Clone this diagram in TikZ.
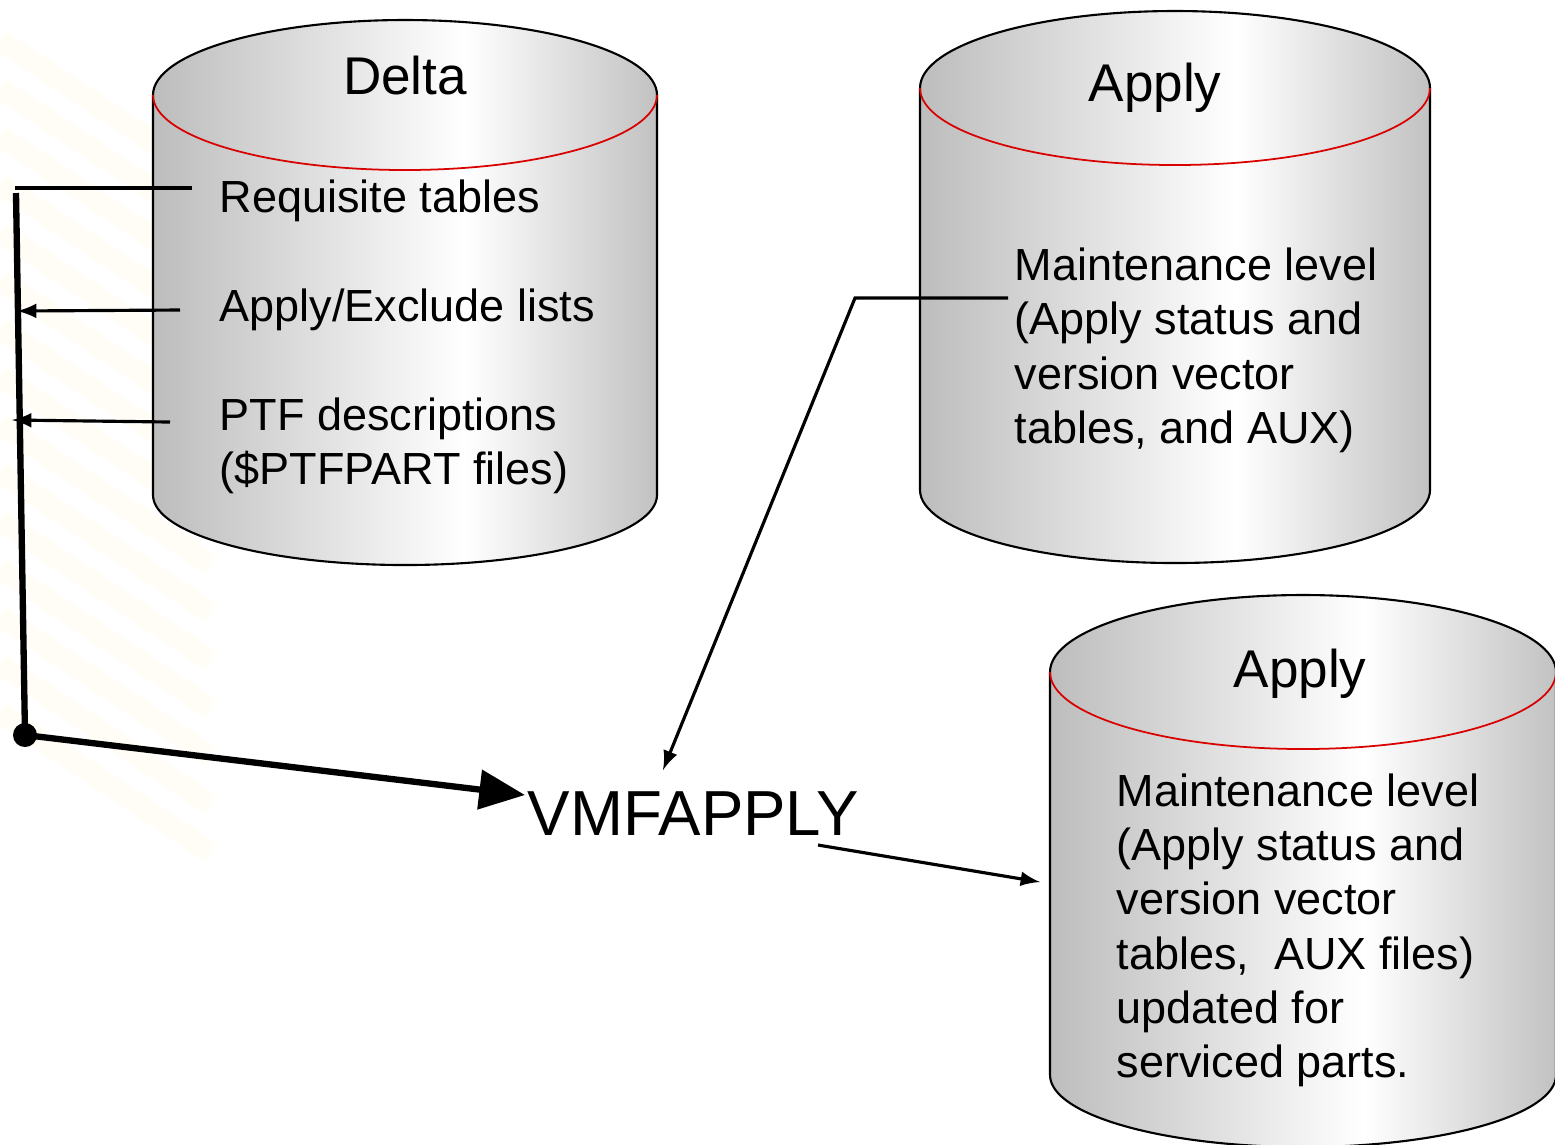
\documentclass[tikz,border=0pt]{standalone}
\usepackage{fontspec}
\setmainfont{Liberation Sans}
\usetikzlibrary{arrows,arrows.meta}
\pgfdeclarehorizontalshading{drum}{100bp}{color(0bp)=(black!26); color(25bp)=(black!26); color(56bp)=(white); color(75bp)=(black!24); color(100bp)=(black!24)}
\tikzset{
  title/.style={font=\fontsize{15.1}{18}\selectfont, anchor=base, inner sep=0pt},
  body/.style={font=\fontsize{12.8}{15.36}\selectfont, anchor=base west, align=left, inner sep=0pt},
  feed/.style={line width=0.9pt},
  bus/.style={line width=1.8pt}
}
\begin{document}
\begin{tikzpicture}[x=0.01cm,y=0.01cm]
        \useasboundingbox (0,0) rectangle (1555,-1144);
        % faint background stripes
        \foreach \k in {0,...,14}
        \draw[line width=6pt, yellow!70!orange, opacity=0.04] (0,-40-\k*48) -- (210,-180-\k*48);
        % cylinders: centre x / top y / bottom y / x radius / top y radius / bottom y radius
        \foreach \cx/\ty/\by/\rx/\rt/\rb in {405/95/495/252/75/70, 1175/88/490/255/77/73, 1303/672/1075/253/77/72}
        {
        \shade[shading=drum, draw=black, line width=0.6pt] (\cx-\rx,-\ty) -- (\cx-\rx,-\by)
            arc[start angle=180, end angle=360, x radius=\rx, y radius=\rb] -- (\cx+\rx,-\ty)
            arc[start angle=0, end angle=180, x radius=\rx, y radius=\rt] -- cycle;
        \draw[red!85!black, line width=0.5pt] (\cx-\rx,-\ty)
            arc[start angle=180, end angle=360, x radius=\rx, y radius=\rt];
        }
        % labels (multi-line nodes sit on their last baseline)
        \node[title] (delta) at (405,-94) {Delta};
        \node[title] (apply) at (1155,-101) {Apply};
        \node[title] (applynew) at (1300,-687) {Apply};
        \node[body] (req) at (219,-212) {Requisite tables};
        \node[body] (lists) at (219,-321) {Apply/Exclude lists};
        \node[body] (ptf) at (219,-484) {PTF descriptions\\(\$PTFPART files)};
        \node[body] (level) at (1014,-443) {Maintenance level\\(Apply status and\\version vector\\tables, and AUX)};
        \node[body] (newlevel) at (1116,-1077) {Maintenance level\\(Apply status and\\version vector\\tables,\ \ AUX files)\\updated for\\serviced parts.};
        \node[font=\fontsize{18.1}{22}\selectfont, anchor=base west, inner sep=0pt] (vmf) at (527,-835) {VMFAPPLY};
        % connector ends
        \coordinate (reqE) at (192,-188);
        \coordinate (reqW) at (15,-188);
        \coordinate (busN) at (16,-193);
        \coordinate (join) at (25,-735);
        \coordinate (listsE) at (180,-310);
        \coordinate (listsW) at (17,-311);
        \coordinate (ptfE) at (170,-422);
        \coordinate (ptfW) at (12,-420);
        \coordinate (vmfW) at (525,-795);
        \coordinate (levelW) at (1008,-298);
        \coordinate (bend) at (855,-298);
        \coordinate (vmfN) at (663,-770);
        \coordinate (vmfE) at (818,-845);
        \coordinate (newW) at (1040,-882);
        % connectors
        \draw[feed] (reqE) -- (reqW);
        \draw[bus] (busN) -- (join);
        \draw[feed,-latex] (listsE) -- (listsW);
        \draw[feed,-latex] (ptfE) -- (ptfW);
        \fill (join) circle (12);
        \draw[bus,-{Triangle[length=13pt,width=11pt]}] (join) -- (vmfW);
        \draw[feed,-latex] (levelW) -- (bend) -- (vmfN);
        \draw[feed,-latex] (vmfE) -- (newW);
    \end{tikzpicture}
\end{document}
